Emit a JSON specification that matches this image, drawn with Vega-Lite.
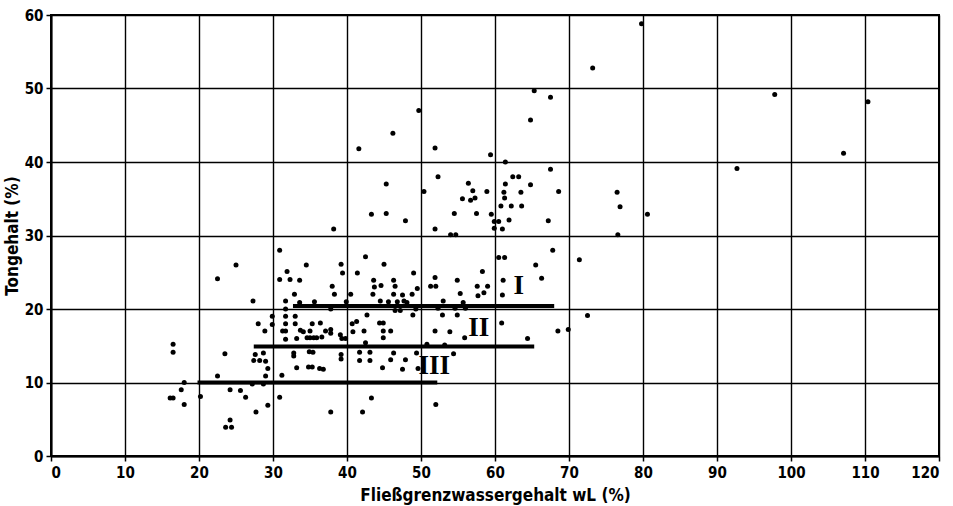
{
  "$schema": "https://vega.github.io/schema/vega-lite/v6.json",
  "width": 888,
  "height": 441,
  "autosize": {"type": "none"},
  "padding": {"left": 51, "top": 15, "right": 14, "bottom": 50},
  "background": "white",
  "config": {
    "view": {"stroke": "black", "strokeWidth": 2},
    "axis": {
      "labelFont": "DejaVu Sans Condensed",
      "labelFontSize": 15,
      "labelFontWeight": "bold",
      "labelColor": "black",
      "titleFont": "DejaVu Sans Condensed",
      "titleFontSize": 17,
      "titleFontWeight": "bold",
      "titleColor": "black",
      "domainColor": "black",
      "domainWidth": 2,
      "tickColor": "black",
      "tickWidth": 1.5,
      "tickSize": 5,
      "grid": true,
      "gridColor": "black",
      "gridWidth": 1.4,
      "gridOpacity": 1
    }
  },
  "datasets": {
    "points": [
      {"wL": 16.5, "ton": 15.2}, {"wL": 16.5, "ton": 14.1}, {"wL": 16.1, "ton": 7.9}, {"wL": 16.5, "ton": 7.9},
      {"wL": 18.0, "ton": 10.0}, {"wL": 17.6, "ton": 9.0}, {"wL": 18.0, "ton": 7.0}, {"wL": 20.2, "ton": 8.1},
      {"wL": 22.5, "ton": 24.1}, {"wL": 25.0, "ton": 26.0}, {"wL": 22.5, "ton": 10.9}, {"wL": 23.5, "ton": 13.9},
      {"wL": 24.2, "ton": 9.0}, {"wL": 24.2, "ton": 4.9}, {"wL": 23.6, "ton": 3.9}, {"wL": 24.4, "ton": 3.9},
      {"wL": 25.6, "ton": 8.9}, {"wL": 26.3, "ton": 8.0}, {"wL": 27.2, "ton": 9.8}, {"wL": 27.3, "ton": 21.1},
      {"wL": 27.7, "ton": 6.0}, {"wL": 28.0, "ton": 18.0}, {"wL": 27.4, "ton": 13.0}, {"wL": 28.2, "ton": 13.0},
      {"wL": 27.6, "ton": 13.8},
      {"wL": 28.9, "ton": 17.0}, {"wL": 28.7, "ton": 14.0}, {"wL": 29.0, "ton": 12.9}, {"wL": 29.3, "ton": 11.9},
      {"wL": 29.0, "ton": 10.9}, {"wL": 28.7, "ton": 9.8}, {"wL": 29.3, "ton": 6.9}, {"wL": 29.9, "ton": 19.0},
      {"wL": 29.9, "ton": 17.9},
      {"wL": 31.9, "ton": 25.1}, {"wL": 30.9, "ton": 24.0}, {"wL": 32.3, "ton": 24.0}, {"wL": 33.6, "ton": 23.9},
      {"wL": 39.4, "ton": 24.9}, {"wL": 41.4, "ton": 24.9}, {"wL": 43.6, "ton": 23.9}, {"wL": 46.3, "ton": 23.9},
      {"wL": 43.7, "ton": 23.0}, {"wL": 44.6, "ton": 23.2}, {"wL": 46.5, "ton": 23.1}, {"wL": 38.0, "ton": 23.1},
      {"wL": 38.3, "ton": 22.0}, {"wL": 40.5, "ton": 22.0}, {"wL": 43.5, "ton": 22.0}, {"wL": 46.3, "ton": 22.0},
      {"wL": 47.5, "ton": 21.9}, {"wL": 32.9, "ton": 22.0}, {"wL": 31.7, "ton": 21.1}, {"wL": 33.6, "ton": 20.9},
      {"wL": 35.6, "ton": 21.0}, {"wL": 39.9, "ton": 21.0}, {"wL": 37.8, "ton": 20.0}, {"wL": 44.5, "ton": 21.1},
      {"wL": 45.6, "ton": 21.0}, {"wL": 46.8, "ton": 21.0}, {"wL": 47.7, "ton": 21.1}, {"wL": 46.5, "ton": 19.8},
      {"wL": 47.2, "ton": 19.8}, {"wL": 31.7, "ton": 20.0}, {"wL": 31.7, "ton": 19.0}, {"wL": 33.0, "ton": 19.0},
      {"wL": 33.0, "ton": 18.0}, {"wL": 31.7, "ton": 18.0}, {"wL": 31.7, "ton": 17.0}, {"wL": 31.3, "ton": 17.0},
      {"wL": 33.7, "ton": 17.1}, {"wL": 34.1, "ton": 16.9}, {"wL": 35.3, "ton": 18.0}, {"wL": 36.4, "ton": 18.1},
      {"wL": 35.0, "ton": 17.0}, {"wL": 33.2, "ton": 16.0}, {"wL": 31.7, "ton": 15.9}, {"wL": 34.6, "ton": 16.1},
      {"wL": 35.0, "ton": 16.1}, {"wL": 35.5, "ton": 16.1}, {"wL": 35.9, "ton": 16.1}, {"wL": 36.6, "ton": 16.2},
      {"wL": 37.1, "ton": 17.0}, {"wL": 37.8, "ton": 17.2}, {"wL": 37.8, "ton": 16.7}, {"wL": 39.1, "ton": 16.5},
      {"wL": 39.3, "ton": 16.0}, {"wL": 39.8, "ton": 16.0}, {"wL": 40.7, "ton": 18.0}, {"wL": 41.3, "ton": 18.3},
      {"wL": 40.8, "ton": 16.9}, {"wL": 42.3, "ton": 17.0}, {"wL": 42.7, "ton": 19.2}, {"wL": 44.4, "ton": 18.1},
      {"wL": 44.9, "ton": 18.1}, {"wL": 44.9, "ton": 17.0}, {"wL": 45.9, "ton": 17.0}, {"wL": 44.9, "ton": 16.1},
      {"wL": 45.9, "ton": 13.1}, {"wL": 46.3, "ton": 14.0}, {"wL": 47.9, "ton": 13.1}, {"wL": 47.5, "ton": 11.8},
      {"wL": 44.8, "ton": 12.0}, {"wL": 41.7, "ton": 14.1}, {"wL": 41.7, "ton": 13.0}, {"wL": 43.1, "ton": 14.1},
      {"wL": 43.1, "ton": 13.0}, {"wL": 42.5, "ton": 15.4}, {"wL": 39.2, "ton": 13.8}, {"wL": 39.2, "ton": 13.2},
      {"wL": 34.9, "ton": 14.2}, {"wL": 35.4, "ton": 14.1}, {"wL": 32.8, "ton": 14.0}, {"wL": 32.8, "ton": 13.6},
      {"wL": 33.2, "ton": 12.0}, {"wL": 34.8, "ton": 12.1}, {"wL": 35.3, "ton": 12.1}, {"wL": 36.3, "ton": 11.9},
      {"wL": 36.8, "ton": 11.8}, {"wL": 31.2, "ton": 11.0}, {"wL": 30.9, "ton": 8.0}, {"wL": 37.8, "ton": 6.0},
      {"wL": 42.1, "ton": 6.0}, {"wL": 43.3, "ton": 7.9},
      {"wL": 49.0, "ton": 24.9}, {"wL": 51.9, "ton": 24.3}, {"wL": 54.9, "ton": 23.9}, {"wL": 58.3, "ton": 25.1},
      {"wL": 61.1, "ton": 23.9}, {"wL": 66.3, "ton": 24.2}, {"wL": 49.5, "ton": 22.8}, {"wL": 51.3, "ton": 23.1},
      {"wL": 52.0, "ton": 23.1}, {"wL": 57.6, "ton": 23.1}, {"wL": 59.0, "ton": 23.1}, {"wL": 48.8, "ton": 22.0},
      {"wL": 55.3, "ton": 22.1}, {"wL": 57.7, "ton": 21.8}, {"wL": 58.5, "ton": 22.2}, {"wL": 61.0, "ton": 21.9},
      {"wL": 53.0, "ton": 21.1}, {"wL": 55.7, "ton": 20.9}, {"wL": 48.1, "ton": 20.9}, {"wL": 49.3, "ton": 20.0},
      {"wL": 52.3, "ton": 20.1}, {"wL": 54.6, "ton": 20.1}, {"wL": 56.0, "ton": 20.1}, {"wL": 48.9, "ton": 19.2},
      {"wL": 52.9, "ton": 19.2}, {"wL": 54.9, "ton": 19.2}, {"wL": 60.9, "ton": 18.1}, {"wL": 51.9, "ton": 17.0},
      {"wL": 53.9, "ton": 16.9}, {"wL": 68.5, "ton": 17.0}, {"wL": 55.9, "ton": 16.1}, {"wL": 64.4, "ton": 16.0},
      {"wL": 50.8, "ton": 15.2}, {"wL": 53.2, "ton": 15.1}, {"wL": 49.4, "ton": 14.0}, {"wL": 54.4, "ton": 13.9},
      {"wL": 49.6, "ton": 11.9}, {"wL": 52.0, "ton": 7.0},
      {"wL": 51.9, "ton": 41.9}, {"wL": 59.4, "ton": 41.0}, {"wL": 61.4, "ton": 40.0}, {"wL": 67.5, "ton": 39.0},
      {"wL": 52.3, "ton": 38.0}, {"wL": 62.4, "ton": 38.0}, {"wL": 63.2, "ton": 38.0}, {"wL": 56.4, "ton": 37.1},
      {"wL": 61.4, "ton": 37.0}, {"wL": 64.8, "ton": 36.9}, {"wL": 50.4, "ton": 36.0}, {"wL": 57.0, "ton": 36.1},
      {"wL": 58.9, "ton": 36.0}, {"wL": 61.2, "ton": 35.9}, {"wL": 63.5, "ton": 35.9}, {"wL": 68.6, "ton": 36.0},
      {"wL": 55.6, "ton": 35.0}, {"wL": 56.7, "ton": 34.8}, {"wL": 57.3, "ton": 35.1}, {"wL": 61.3, "ton": 35.1},
      {"wL": 60.8, "ton": 34.0}, {"wL": 62.2, "ton": 34.0}, {"wL": 63.6, "ton": 34.0}, {"wL": 54.5, "ton": 33.0},
      {"wL": 57.5, "ton": 33.0}, {"wL": 59.5, "ton": 32.9}, {"wL": 47.9, "ton": 32.0}, {"wL": 59.9, "ton": 31.9},
      {"wL": 60.5, "ton": 31.9}, {"wL": 61.9, "ton": 32.1}, {"wL": 67.2, "ton": 32.0}, {"wL": 59.9, "ton": 31.0},
      {"wL": 61.0, "ton": 30.9}, {"wL": 51.9, "ton": 30.9}, {"wL": 54.0, "ton": 30.1}, {"wL": 54.7, "ton": 30.1},
      {"wL": 67.8, "ton": 28.0}, {"wL": 60.5, "ton": 27.0}, {"wL": 61.3, "ton": 27.0}, {"wL": 65.5, "ton": 26.0},
      {"wL": 65.3, "ton": 49.7}, {"wL": 67.5, "ton": 48.8}, {"wL": 64.8, "ton": 45.7}, {"wL": 49.7, "ton": 47.0},
      {"wL": 46.2, "ton": 43.9}, {"wL": 41.6, "ton": 41.8}, {"wL": 45.3, "ton": 37.0}, {"wL": 43.3, "ton": 32.9},
      {"wL": 45.3, "ton": 33.0}, {"wL": 38.2, "ton": 30.9},
      {"wL": 30.9, "ton": 28.0}, {"wL": 34.5, "ton": 26.0}, {"wL": 39.2, "ton": 26.1}, {"wL": 42.5, "ton": 27.1},
      {"wL": 45.0, "ton": 26.1},
      {"wL": 79.8, "ton": 58.8}, {"wL": 73.2, "ton": 52.8}, {"wL": 97.8, "ton": 49.2}, {"wL": 92.7, "ton": 39.1},
      {"wL": 76.5, "ton": 35.9}, {"wL": 76.9, "ton": 33.9}, {"wL": 80.6, "ton": 32.9}, {"wL": 76.6, "ton": 30.1},
      {"wL": 110.4, "ton": 48.2}, {"wL": 107.1, "ton": 41.2}, {"wL": 71.4, "ton": 26.7}, {"wL": 72.5, "ton": 19.1},
      {"wL": 69.9, "ton": 17.2}
    ],
    "lines": [
      {"line": "I", "start": 32.7, "end": 68.0, "ton": 20.4},
      {"line": "II", "start": 27.4, "end": 65.3, "ton": 14.9},
      {"line": "III", "start": 19.8, "end": 52.2, "ton": 10.0}
    ],
    "labels": [
      {"label": "I", "wL": 63.2, "ton": 23.1},
      {"label": "II", "wL": 57.8, "ton": 17.4},
      {"label": "III", "wL": 51.8, "ton": 12.2}
    ]
  },
  "layer": [
    {
      "data": {"name": "points"},
      "mark": {"type": "point", "filled": true, "color": "black", "size": 25, "opacity": 1},
      "encoding": {
        "x": {
          "field": "wL", "type": "quantitative",
          "scale": {"domain": [0, 120], "nice": false, "zero": false},
          "axis": {"values": [0, 10, 20, 30, 40, 50, 60, 70, 80, 90, 100, 110, 120], "title": "Fließgrenzwassergehalt wL (%)", "labelPadding": 4, "titlePadding": 7}
        },
        "y": {
          "field": "ton", "type": "quantitative",
          "scale": {"domain": [0, 60], "nice": false, "zero": false},
          "axis": {"values": [0, 10, 20, 30, 40, 50, 60], "title": "Tongehalt (%)", "labelPadding": 3, "titlePadding": 3}
        }
      }
    },
    {
      "data": {"name": "lines"},
      "mark": {"type": "rule", "strokeWidth": 4, "color": "black"},
      "encoding": {
        "x": {"field": "start", "type": "quantitative"},
        "x2": {"field": "end"},
        "y": {"field": "ton", "type": "quantitative"}
      }
    },
    {
      "data": {"name": "labels"},
      "mark": {"type": "text", "font": "Liberation Serif", "fontSize": 27, "fontWeight": "bold", "align": "center", "baseline": "middle", "color": "black"},
      "encoding": {
        "x": {"field": "wL", "type": "quantitative"},
        "y": {"field": "ton", "type": "quantitative"},
        "text": {"field": "label"}
      }
    }
  ]
}
